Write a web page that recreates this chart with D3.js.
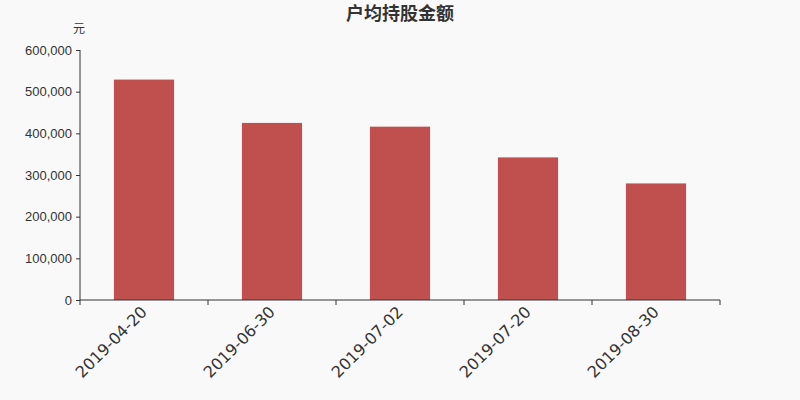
<!DOCTYPE html>
<html>
<head>
<meta charset="utf-8">
<script src="https://cdn.jsdelivr.net/npm/d3@7"></script>
<style>
  body { margin: 0; background: #f9f9f9; }
  svg { display: block; font-family: 'DejaVu Sans', sans-serif; }
</style>
</head>
<body>
<div class="bar-chart-panel"></div>
<script>
const categories = ['2019-04-20', '2019-06-30', '2019-07-02', '2019-07-20', '2019-08-30']
const values = [529000, 425000, 416000, 342300, 279800]
const yTicks = [0, 100000, 200000, 300000, 400000, 500000, 600000]
const title = '户均持股金额'
const unit = '元'

const width = 800
const height = 400
const margin = { top: 50, right: 80, bottom: 100, left: 80 }

const svg = d3.select('.bar-chart-panel').append('svg')
  .attr('width', width)
  .attr('height', height)

svg.append('rect')
  .attr('width', width)
  .attr('height', height)
  .attr('fill', '#f9f9f9')

const x = d3.scaleBand()
  .range([margin.left, width - margin.right])
  .paddingInner(0.53)
  .paddingOuter(0.265)
  .domain(categories)

const y = d3.scaleLinear()
  .range([height - margin.bottom, margin.top])
  .domain([0, 600000])

// bars
svg.append('g').selectAll('rect')
  .data(values)
  .enter().append('rect')
    .attr('x', function (d, i) { return x(categories[i]) })
    .attr('y', function (d) { return y(d) })
    .attr('width', x.bandwidth())
    .attr('height', function (d) { return y(0) - y(d) })
    .attr('fill', '#c0504d')

// y axis
const yAxis = svg.append('g')
  .attr('transform', 'translate(' + margin.left + ',0)')
  .call(d3.axisLeft(y).tickValues(yTicks).tickSize(4).tickPadding(4).tickFormat(d3.format(',')))
yAxis.select('.domain').attr('stroke', '#333').attr('d', 'M0,' + y(600000) + 'V' + y(0))
yAxis.selectAll('.tick line').attr('stroke', '#333')
yAxis.selectAll('.tick text').attr('fill', '#333').style('font-size', '13px')

// x axis, ticks on band boundaries
const xAxis = svg.append('g')
  .attr('transform', 'translate(0,' + y(0) + ')')
xAxis.append('line')
  .attr('x1', margin.left).attr('x2', width - margin.right)
  .attr('stroke', '#333')
const boundaries = categories.map(function (c) { return x(c) - x.step() * x.paddingInner() / 2 })
boundaries.push(width - margin.right)
xAxis.selectAll('.xtick')
  .data(boundaries)
  .enter().append('line')
    .attr('x1', function (d) { return d }).attr('x2', function (d) { return d })
    .attr('y1', 0).attr('y2', 5)
    .attr('stroke', '#333')
xAxis.selectAll('.xlabel')
  .data(categories)
  .enter().append('text')
    .attr('transform', function (d) { return 'translate(' + (x(d) + x.bandwidth() / 2 - 4) + ',5) rotate(-45)' })
    .attr('text-anchor', 'end')
    .attr('dy', '0.71em')
    .attr('fill', '#333')
    .style('font-size', '16px')
    .text(function (d) { return d })

// title and unit
svg.append('text')
  .attr('x', width / 2)
  .attr('y', 20)
  .attr('text-anchor', 'middle')
  .attr('fill', '#333')
  .style('font-family', "'Noto Sans CJK SC', sans-serif")
  .style('font-size', '18px')
  .style('font-weight', 'bold')
  .text(title)

svg.append('text')
  .attr('x', 79)
  .attr('y', 33)
  .attr('text-anchor', 'middle')
  .attr('fill', '#333')
  .style('font-family', "'Noto Sans CJK SC', sans-serif")
  .style('font-size', '12px')
  .text(unit)
</script>
</body>
</html>
